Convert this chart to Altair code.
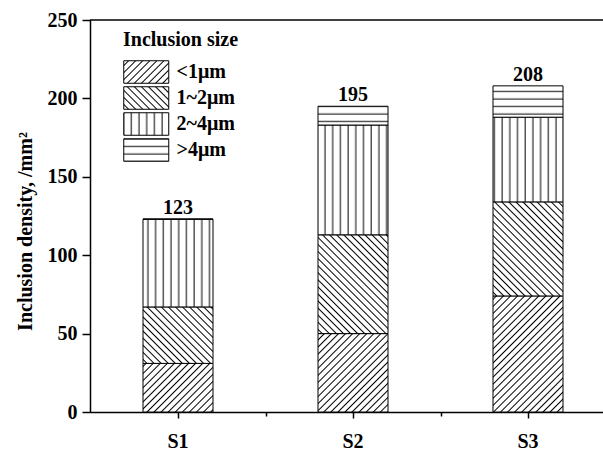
import altair as alt
import pandas as pd
import jinja2

# ---------------- data ----------------
samples = ["S1", "S2", "S3"]
sizes = ["<1μm", "1~2μm", "2~4μm", ">4μm"]
lt1 = [31, 50, 74]
s1_2 = [36, 63, 60]
s2_4 = [56, 70, 54]
gt4 = [0, 12, 20]
y_ticks = [0, 25, 50, 75, 100, 125, 150, 175, 200, 225, 250]
y_max = [250]

# hatch fills (SVG patterns defined in the page template below)
patterns = ["url(#hatchF)", "url(#hatchB)", "url(#hatchV)", "url(#hatchH)"]

rows = []
for i, s in enumerate(samples):
    for j, vals in enumerate([lt1, s1_2, s2_4, gt4]):
        rows.append({"sample": s, "size": sizes[j], "idx": j, "value": vals[i]})
df = pd.DataFrame(rows)

FONT = "Liberation Serif"

base = alt.Chart(df)

x_scale = alt.Scale(paddingInner=0.6, paddingOuter=0.2657, align=0.57)

x_main = alt.X(
    "sample:N", sort=samples, scale=x_scale,
    axis=alt.Axis(orient="bottom", title=None, labelAngle=0, labelFont=FONT, labelFontSize=20,
                  labelFontWeight="bold", labelColor="black", labelPadding=13, tickSize=6,
                  tickColor="black", tickWidth=1.5, domainColor="black", domainWidth=1.5),
)

y_axis = alt.Axis(
    values=y_ticks,
    labelExpr="datum.value % 50 === 0 ? datum.label : ''",
    tickSize={"condition": {"test": "datum.value % 50 === 0", "value": 8}, "value": 4},
    tickColor="black", tickWidth=1.5, domainColor="black", domainWidth=1.5,
    labelFont=FONT, labelFontSize=20, labelFontWeight="bold", labelColor="black", labelPadding=5,
    grid=False,
    title="Inclusion density, /mm²", titleFont=FONT, titleFontSize=20, titleFontWeight="bold",
    titleColor="black", titleX=-65, titleY=211, titleAngle=270, titleBaseline="middle",
    titleAlign="center",
)

# wide rectangular legend swatch (path drawn right of the symbol centre)
legend = alt.Legend(
    title="Inclusion size", orient="none", legendX=33, legendY=10,
    titleFont=FONT, titleFontSize=20, titleFontWeight="bold", titleColor="black", titlePadding=10,
    labelFont=FONT, labelFontSize=20, labelFontWeight="bold", labelColor="black", labelOffset=29.5,
    symbolType="M-1,-1H3V1H-1Z", symbolSize=506.25, symbolStrokeColor="black",
    symbolStrokeWidth=1, rowPadding=-2.4, padding=0,
)

bars = base.mark_bar(stroke="black", strokeWidth=1).encode(
    x=x_main,
    y=alt.Y("value:Q", stack="zero", scale=alt.Scale(domain=[0, 250], nice=False), axis=y_axis),
    fill=alt.Fill("size:N", sort=sizes, scale=alt.Scale(domain=sizes, range=patterns), legend=legend),
    order=alt.Order("idx:Q", sort="ascending"),
)

totals = base.transform_aggregate(
    total="sum(value)", groupby=["sample"]
).mark_text(font=FONT, fontSize=20, fontWeight="bold", baseline="alphabetic", dy=-5, color="black").encode(
    x=alt.X("sample:N", sort=samples, scale=x_scale,
            axis=alt.Axis(orient="bottom", title=None, labels=False, domain=False, ticks=True,
                          tickSize=4, tickOffset=87.5, tickColor="black", tickWidth=1.5)),
    y=alt.Y("total:Q"),
    text=alt.Text("total:Q"),
)

top_line = alt.Chart(pd.DataFrame({"ymax": y_max})).mark_rule(color="black", strokeWidth=1.5).encode(
    y=alt.Y("ymax:Q")
)

chart = alt.layer(bars, totals, top_line).resolve_axis(x="independent").properties(
    width=513, height=392,
    autosize=alt.AutoSizeParams(type="none"),
    padding={"left": 90, "top": 20, "right": 0, "bottom": 38},
    background="white",
).configure_view(stroke=None)

TEMPLATE = jinja2.Template("""<!DOCTYPE html>
<html>
<head>
<meta charset="utf-8">
<style>
  html, body { margin: 0; padding: 0; overflow: hidden; background: white; }
  #{{ output_div }}.vega-embed { width: 100%; display: flex; }
</style>
<script type="text/javascript" src="{{ base_url }}/vega@{{ vega_version }}"></script>
<script type="text/javascript" src="{{ base_url }}/vega-lite@{{ vegalite_version }}"></script>
<script type="text/javascript" src="{{ base_url }}/vega-embed@{{ vegaembed_version }}"></script>
</head>
<body>
<svg width="0" height="0" style="position:absolute">
  <defs>
    <pattern id="hatchF" patternUnits="userSpaceOnUse" width="5" height="5" patternTransform="rotate(45)">
      <rect width="5" height="5" fill="white"/>
      <line x1="2.5" y1="0" x2="2.5" y2="5" stroke="black" stroke-width="1"/>
    </pattern>
    <pattern id="hatchB" patternUnits="userSpaceOnUse" width="5" height="5" patternTransform="rotate(-45)">
      <rect width="5" height="5" fill="white"/>
      <line x1="2.5" y1="0" x2="2.5" y2="5" stroke="black" stroke-width="1"/>
    </pattern>
    <pattern id="hatchV" patternUnits="userSpaceOnUse" width="7.7" height="8">
      <rect width="7.7" height="8" fill="white"/>
      <line x1="4" y1="0" x2="4" y2="8" stroke="black" stroke-width="1"/>
    </pattern>
    <pattern id="hatchH" patternUnits="userSpaceOnUse" width="8" height="7.5">
      <rect width="8" height="7.5" fill="white"/>
      <line x1="0" y1="4" x2="8" y2="4" stroke="black" stroke-width="1"/>
    </pattern>
  </defs>
</svg>
<div id="{{ output_div }}"></div>
<script type="text/javascript">
  vegaEmbed("#{{ output_div }}", {{ spec }}, {{ embed_options }}).catch(console.error);
</script>
</body>
</html>
""")

chart.save("out.html", embed_options={"renderer": "svg", "actions": False}, template=TEMPLATE)
